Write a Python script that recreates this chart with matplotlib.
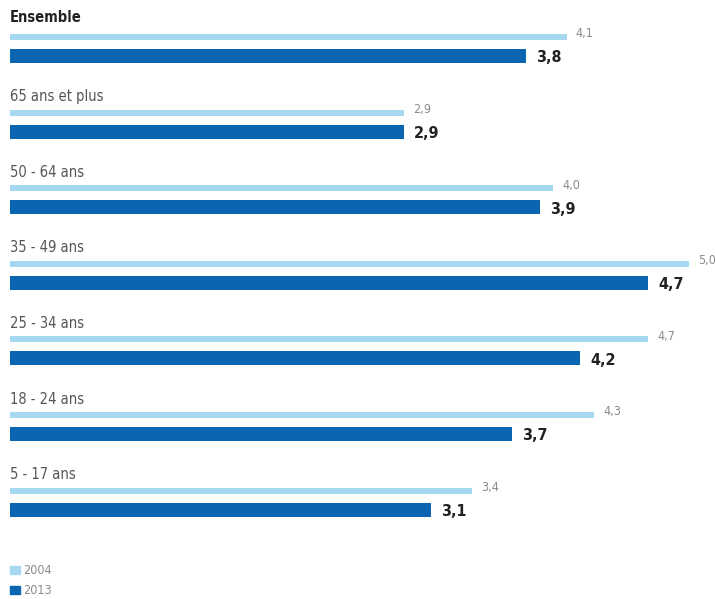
import matplotlib.pyplot as plt
from matplotlib.patches import Rectangle

# ----------------
# DATA
# ----------------

groups = ['Ensemble', '65 ans et plus', '50 - 64 ans', '35 - 49 ans',
          '25 - 34 ans', '18 - 24 ans', '5 - 17 ans']
v2004 = [4.1, 2.9, 4.0, 5.0, 4.7, 4.3, 3.4]
v2013 = [3.8, 2.9, 3.9, 4.7, 4.2, 3.7, 3.1]
years = ['2004', '2013']

LIGHT = '#a6d8f2'
DARK = '#0a66b0'
GREY = '#8a8a8a'

plt.rcParams['font.family'] = ['DejaVu Sans']
plt.rcParams['font.stretch'] = 'condensed'

W, H = 715, 599
fig = plt.figure(figsize=(W / 100, H / 100), dpi=100)
ax = fig.add_axes([0, 0, 1, 1])

# x in data units (0 at 10px, 5.0 at 689px), y in pixel rows
ppu = (689 - 10) / 5.0
ax.set_xlim(-10 / ppu, (W - 10) / ppu)
ax.set_ylim(H, 0)
ax.axis('off')

y_light, step = 37, 75.6
for i, (g, a, b) in enumerate(zip(groups, v2004, v2013)):
    yl = y_light + i * step
    yd = yl + 19
    ax.text(0, yl - (19 if i == 0 else 16), g, fontsize=10.5,
            color='#222222' if i == 0 else '#555555',
            fontweight='bold' if i == 0 else 'normal', va='center', ha='left')
    ax.barh(yl, a, height=6, left=0, color=LIGHT)
    ax.barh(yd, b, height=14, left=0, color=DARK)
    ax.text(a + 9 / ppu, yl - 3, f'{a:.1f}'.replace('.', ','), fontsize=9,
            color=GREY, va='center', ha='left')
    ax.text(b + 10 / ppu, yd + 2, f'{b:.1f}'.replace('.', ','), fontsize=11.5,
            color='#222222', fontweight='bold', va='center', ha='left')

# legend
for j, (lab, col) in enumerate(zip(years, [LIGHT, DARK])):
    yy = 570 + j * 20
    ax.add_patch(Rectangle((0, yy - 4), 10 / ppu, 8, color=col))
    ax.text(13 / ppu, yy, lab, fontsize=9, color=GREY, va='center', ha='left')

fig.savefig('out.png', dpi=100, facecolor='white')
